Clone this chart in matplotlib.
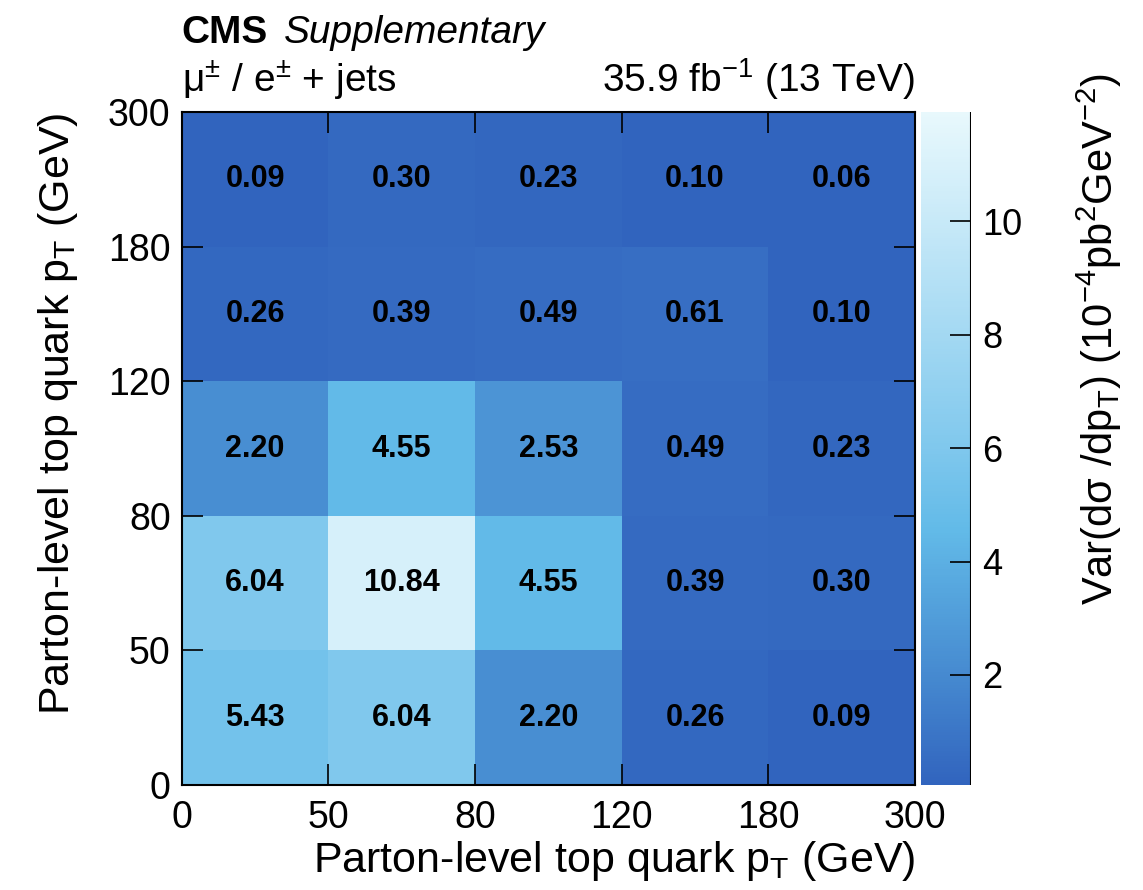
import numpy as np
import matplotlib
matplotlib.use("Agg")
import matplotlib.pyplot as plt
from matplotlib.colors import LinearSegmentedColormap, Normalize

plt.rcParams['font.family'] = ['Liberation Sans', 'DejaVu Sans']
plt.rcParams['mathtext.fontset'] = 'custom'
plt.rcParams['mathtext.rm'] = 'Liberation Sans'
plt.rcParams['mathtext.it'] = 'Liberation Sans:italic'
plt.rcParams['mathtext.default'] = 'regular'

edges = ['0', '50', '80', '120', '180', '300']
# rows: y bins from bottom (0-50) to top (180-300); columns: x bins
var = np.array([
    [5.43, 6.04, 2.20, 0.26, 0.09],
    [6.04, 10.84, 4.55, 0.39, 0.30],
    [2.20, 4.55, 2.53, 0.49, 0.23],
    [0.26, 0.39, 0.49, 0.61, 0.10],
    [0.09, 0.30, 0.23, 0.10, 0.06],
])

vmin = var.min()
vmax = var.max() * 1.1

anchors = [0.0, 2.2, 4.55, 6.04, 10.84, vmax]
cols = [(49, 100, 190), (72, 142, 210), (98, 186, 232), (128, 200, 237),
        (214, 240, 250), (232, 248, 252)]
cmap = LinearSegmentedColormap.from_list(
    'cmsblue', [((a - vmin) / (vmax - vmin) if a > vmin else 0.0, tuple(c / 255 for c in col))
                for a, col in zip(anchors, cols)])
norm = Normalize(vmin=vmin, vmax=vmax)

fig = plt.figure(figsize=(11.43, 8.9), dpi=100)
ax = fig.add_axes([0.159, 0.118, 0.6415, 0.756])
cax = fig.add_axes([0.8058, 0.118, 0.0437, 0.756])

n = len(edges)
mesh = ax.pcolormesh(np.arange(n), np.arange(n), var, cmap=cmap, norm=norm)
for i in range(n - 1):
    for j in range(n - 1):
        ax.text(j + 0.5, i + 0.5, f'{var[i, j]:.2f}', ha='center', va='center',
                fontsize=22, fontweight='bold', color='black')

ax.set_xlim(0, n - 1)
ax.set_ylim(0, n - 1)
ax.set_xticks(np.arange(n))
ax.set_yticks(np.arange(n))
ax.set_xticklabels(edges)
ax.set_yticklabels(edges)
ax.tick_params(direction='in', length=15, width=1.2, labelsize=27,
               top=True, right=True, pad=8)
ax.tick_params(axis='x', pad=11)
for s in ax.spines.values():
    s.set_linewidth(1.5)

ax.set_xlabel(r'Parton-level top quark p$_T$ (GeV)', fontsize=31, loc='right', labelpad=2)
ax.set_ylabel(r'Parton-level top quark p$_T$ (GeV)', fontsize=31, loc='top', labelpad=20)

cb = fig.colorbar(mesh, cax=cax)
cb.outline.set_visible(False)
cb.set_ticks([2, 4, 6, 8, 10])
cax.tick_params(direction='in', length=15, width=1.2, labelsize=26, pad=8)
cax.axvline(1.0, color='black', lw=1.5)
fig.text(0.962, 0.918, r'Var(d$\sigma$ /dp$_T$) (10$^{-4}$pb$^2$GeV$^{-2}$)', fontsize=30,
         rotation=90, ha='center', va='top')

fig.canvas.draw()
r = fig.canvas.get_renderer()
t1 = fig.text(0.159, 0.952, 'CMS', fontsize=28, fontweight='bold', va='baseline')
bb = t1.get_window_extent(r)
fig.text((bb.x1 + 16) / fig.bbox.width, 0.952, 'Supplementary', fontsize=28,
         style='italic', va='baseline')
fig.text(0.159, 0.897, r'μ$^{\pm}$ / e$^{\pm}$ + jets', fontsize=28, va='baseline')
fig.text(0.8005, 0.897, r'35.9 fb$^{-1}$ (13 TeV)', fontsize=28, va='baseline', ha='right')

fig.savefig('out.png', dpi=100)
